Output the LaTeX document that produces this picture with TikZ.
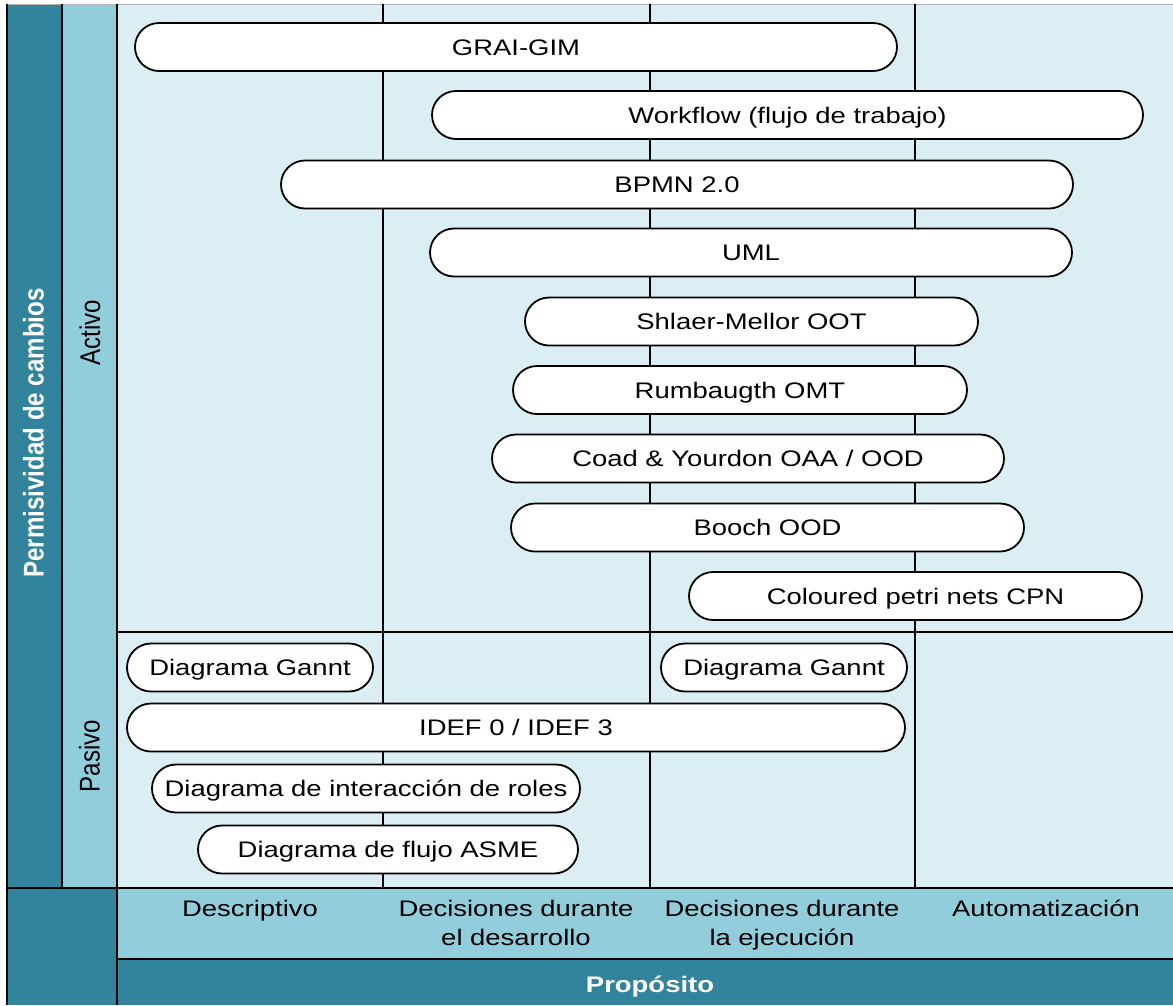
\documentclass[tikz,border=0pt]{standalone}
\usepackage{fontspec}
\setmainfont{Liberation Sans}[FakeStretch=1.22]
\newfontfamily\sidefont{Liberation Sans}[FakeStretch=0.845]
\newfontfamily\sideboldfont{Liberation Sans Bold}[FakeStretch=0.845]
\definecolor{tealdark}{HTML}{31849B}
\definecolor{teallight}{HTML}{92CDDC}
\definecolor{tealpale}{HTML}{DAEEF3}
\tikzset{
  pill/.style={draw, line width=1.8pt, fill=white, rounded corners=24pt,
    minimum height=48pt, inner sep=0pt, text height=16.5pt, text depth=0pt,
    font=\fontsize{22.5}{27}\selectfont},
  gridline/.style={line width=2pt, black},
  axislabel/.style={font=\fontsize{22.5}{29}\selectfont, align=center, anchor=base, inner sep=0pt},
  sidelabel/.style={font=\sidefont\fontsize{28.5}{34}\selectfont, rotate=90, anchor=base, inner sep=0pt},
}
\begin{document}
\begin{tikzpicture}[x=1pt,y=-1pt]
\useasboundingbox (0,0) rectangle (1173,1005);
% background panels
\fill[tealpale] (117,4) rectangle (1173,888);
\fill[tealdark] (7,4) rectangle (62,888);
\fill[teallight] (62,4) rectangle (117,888);
\fill[teallight] (117,888) rectangle (1173,959);
\fill[tealdark] (117,959) rectangle (1173,1005);
\fill[tealdark] (7,888) rectangle (117,1005);
% frame and grid
\draw[gray!60, line width=1pt] (6,4) -- (1173,4);
\draw[gridline] (7,4) -- (7,1005);
\draw[gridline] (62,4) -- (62,888);
\draw[gridline] (117,4) -- (117,1005);
\draw[gridline] (383,4) -- (383,888);
\draw[gridline] (650,4) -- (650,888);
\draw[gridline] (915,4) -- (915,888);
\draw[gridline] (117,632) -- (1173,632);
\draw[gridline] (6,888) -- (1173,888);
\draw[gridline] (117,959) -- (1173,959);
% side labels
\node[sidelabel, font=\sideboldfont\fontsize{28.5}{34}\selectfont, text=white] (perm) at (43.5,433) {Permisividad de cambios};
\node[sidelabel] (activo) at (100,332.5) {Activo};
\node[sidelabel] (pasivo) at (99.5,756) {Pasivo};
% purpose axis (two-line labels sit on the baseline of their last line)
\node[axislabel] (descr) at (250,916.5) {Descriptivo};
\node[axislabel] (desarr) at (516,945.5) {Decisiones durante\\el desarrollo};
\node[axislabel] (ejec) at (782,945.5) {Decisiones durante\\la ejecución};
\node[axislabel] (auto) at (1046,916.5) {Automatización};
\node[axislabel, text=white] (prop) at (650,992.5) {\bfseries Propósito};
% techniques
\node[pill, minimum width=762pt] (grai) at (516,47) {GRAI-GIM};
\node[pill, minimum width=711pt] (workflow) at (787.5,115) {Workflow (flujo de trabajo)};
\node[pill, minimum width=792pt] (bpmn) at (677,184.5) {BPMN 2.0};
\node[pill, minimum width=642pt] (uml) at (751,252.5) {UML};
\node[pill, minimum width=453pt] (shlaer) at (751.5,321.5) {Shlaer-Mellor OOT};
\node[pill, minimum width=454pt] (rumb) at (740,390) {Rumbaugth OMT};
\node[pill, minimum width=512pt] (coad) at (748,458.5) {Coad \& Yourdon OAA / OOD};
\node[pill, minimum width=513pt] (booch) at (767.5,527.5) {Booch OOD};
\node[pill, minimum width=453pt] (cpn) at (915.5,596) {Coloured petri nets CPN};
\node[pill, minimum width=246pt] (ganntA) at (250,667.5) {Diagrama Gannt};
\node[pill, minimum width=246pt] (ganntB) at (784,667.5) {Diagrama Gannt};
\node[pill, minimum width=778pt] (idef) at (516,727.5) {IDEF 0 / IDEF 3};
\node[pill, minimum width=428pt] (roles) at (366,788.5) {Diagrama de interacción de roles};
\node[pill, minimum width=380pt] (asme) at (388,849.5) {Diagrama de flujo ASME};
\end{tikzpicture}
\end{document}
